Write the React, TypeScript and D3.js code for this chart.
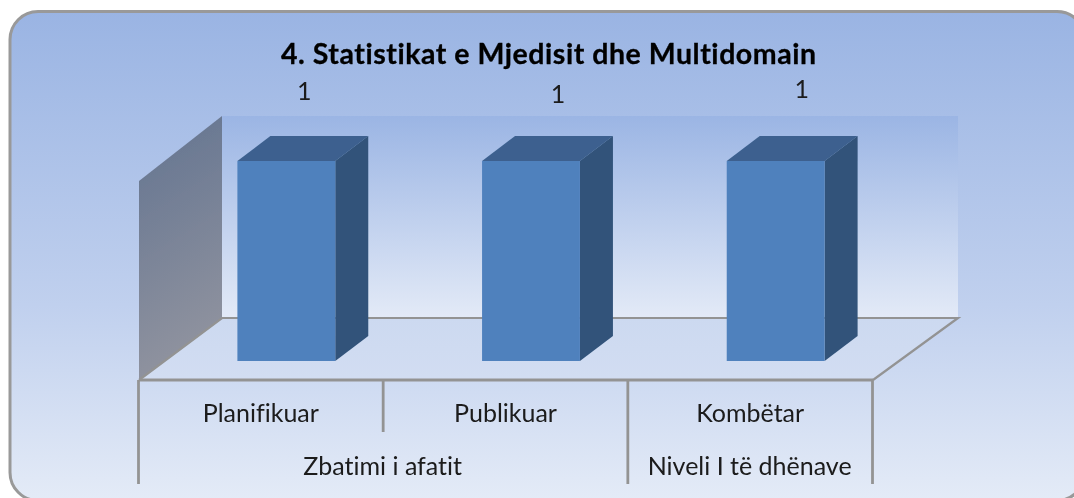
import React from 'react'
import * as d3 from 'd3'

const title = '4. Statistikat e Mjedisit dhe Multidomain'
const categories = ['Planifikuar', 'Publikuar', 'Kombëtar']
const values = [1, 1, 1]
const groups = [
  { label: 'Zbatimi i afatit', from: 0, to: 2 },
  { label: 'Niveli I të dhënave', from: 2, to: 3 },
]
// the data labels sit a bit off in the original, moved by hand
const labelNudge = [
  { x: 43, y: 0 },
  { x: 52, y: 3 },
  { x: 51, y: -2 },
]

const W = 1074
const H = 498
const font = 'Lato, Carlito, sans-serif'

const floorFront = 380
const floorBack = 318
const depthX = 84
const plotLeft = 139
const plotRight = 873
const barDepthX = 33
const barDepthY = 25
const barShift = 25

function App() {
  const x = d3.scaleBand<string>()
    .domain(categories)
    .range([plotLeft, plotRight])
    .paddingInner(0.6)
    .paddingOuter(0.3)

  const step = (plotRight - plotLeft) / categories.length
  const y = d3.scaleLinear().domain([0, 1]).range([361, 161])
  const wallTop = floorBack - 202

  const line = d3.line()

  const sideWall = line([
    [plotLeft, floorFront],
    [plotLeft, wallTop + (floorFront - floorBack) + 3],
    [plotLeft + depthX - 1, wallTop],
    [plotLeft + depthX - 1, floorBack],
  ]) + 'Z'

  const floor = line([
    [plotLeft, floorFront],
    [plotLeft + depthX, floorBack],
    [plotRight + depthX + 1, floorBack],
    [plotRight, floorFront],
  ]) + 'Z'

  return (
    <svg width={W} height={H} style={{ position: 'fixed', left: 0, top: 0, background: '#fff' }}>
      <defs>
        <linearGradient id="bg" x1="0" x2="0" y1="0" y2="1">
          <stop offset="0" stopColor="#9ab4e3" />
          <stop offset="0.6" stopColor="#c0d0ee" />
          <stop offset="1" stopColor="#e4ebf7" />
        </linearGradient>
        <linearGradient id="wall" x1="0" x2="0" y1="0" y2="1">
          <stop offset="0" stopColor="#9bb5e4" />
          <stop offset="1" stopColor="#e3eaf7" />
        </linearGradient>
        <linearGradient id="side" x1="0" x2="0.2" y1="0" y2="1">
          <stop offset="0" stopColor="#627390" />
          <stop offset="1" stopColor="#90939f" />
        </linearGradient>
        <linearGradient id="floorFill" x1="0" x2="0" y1="0" y2="1">
          <stop offset="0" stopColor="#ccd9f0" />
          <stop offset="1" stopColor="#d2ddf2" />
        </linearGradient>
        <filter id="soft" x="-5%" y="-5%" width="110%" height="110%">
          <feGaussianBlur stdDeviation="0.45" />
        </filter>
      </defs>

      <rect x={10} y={11.5} width={1075} height={489} rx={28} fill="url(#bg)" stroke="#999" strokeWidth={3} />

      <g filter="url(#soft)">
        <rect x={plotLeft + depthX - 1} y={wallTop} width={plotRight + depthX + 1 - (plotLeft + depthX - 1)} height={floorBack - wallTop} fill="url(#wall)" />
        <path d={sideWall} fill="url(#side)" />
        <path d={floor} fill="url(#floorFill)" />
        <path d={line([[plotLeft, floorFront], [plotLeft + depthX - 1, floorBack], [plotRight + depthX + 1, floorBack], [plotRight, floorFront]]) ?? ''} fill="none" stroke="#939393" strokeWidth={2.2} />

        {categories.map((c, i) => {
          const left = (x(c) ?? 0) + barShift
          const right = left + x.bandwidth()
          const top = y(values[i])
          const base = y(0)
          return (
            <g key={c}>
              <path
                d={line([[left, top], [left + barDepthX, top - barDepthY], [right + barDepthX, top - barDepthY], [right, top]]) + 'Z'}
                fill="#3c618f"
              />
              <path
                d={line([[right, top], [right + barDepthX, top - barDepthY], [right + barDepthX, base - barDepthY], [right, base]]) + 'Z'}
                fill="#30527a"
              />
              <rect x={left} y={top} width={x.bandwidth()} height={base - top} fill="#4f81bd" />
            </g>
          )
        })}

        {/* axis box */}
        <line x1={plotLeft} x2={plotRight} y1={floorFront} y2={floorFront} stroke="#939393" strokeWidth={2.8} />
        {d3.range(categories.length + 1).map((i) => {
          const isGroupEdge = i === 0 || groups.some((g) => g.to === i)
          return (
            <line
              key={i}
              x1={plotLeft + i * step - 0.5}
              x2={plotLeft + i * step - 0.5}
              y1={floorFront}
              y2={isGroupEdge ? 484 : 432}
              stroke="#939393"
              strokeWidth={2.8}
            />
          )
        })}

        <g fontFamily={font} fill="#1a1a1a" style={{ fontVariantLigatures: 'none' }}>
          <text x={548.5} y={64} fontSize={28.5} fontWeight={700} fill="#000" stroke="#000" strokeWidth={0.3} textAnchor="middle" textLength={535}>{title}</text>
          {categories.map((c, i) => (
            <text key={c} x={(x(c) ?? 0) + x.bandwidth() / 2 + labelNudge[i].x} y={100 + labelNudge[i].y} fontSize={25} textAnchor="middle">{values[i]}</text>
          ))}
          {categories.map((c, i) => (
            <text key={c} x={plotLeft + (i + 0.5) * step - 0.5} y={422} fontSize={25} textAnchor="middle">{c}</text>
          ))}
          {groups.map((g) => (
            <text key={g.label} x={plotLeft + ((g.from + g.to) / 2) * step - 1} y={475} fontSize={25} textAnchor="middle">{g.label}</text>
          ))}
        </g>
      </g>
    </svg>
  )
}

export default App
